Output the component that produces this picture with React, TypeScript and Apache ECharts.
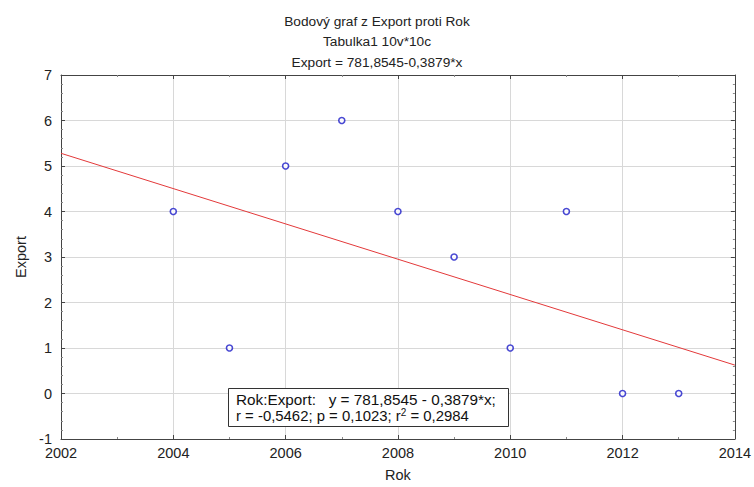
import React, { useEffect, useRef } from "react";
import * as echarts from "echarts";

const titleLines = ["Bodový graf z Export proti Rok", "Tabulka1 10v*10c", "Export = 781,8545-0,3879*x"];
const years = [2004, 2005, 2006, 2007, 2008, 2009, 2010, 2011, 2012, 2013];
const exportValues = [4, 1, 5, 6, 4, 3, 1, 4, 0, 0];
const regLine: [number, number][] = [[2002, 5.279], [2014, 0.624]];
const xLabelName = "Rok";
const yLabelName = "Export";
const statLine1 = "Rok:Export:   y = 781,8545 - 0,3879*x;";
const statLine2a = "r = -0,5462; p = 0,1023; r";
const statLine2b = " = 0,2984";

const FONT = "'Liberation Sans', Arial, sans-serif";

export default function App() {
  const ref = useRef<HTMLDivElement>(null);
  useEffect(() => {
    if (!ref.current) return;
    const chart = echarts.init(ref.current, undefined, { renderer: "svg" });
    const axisCommon = {
      type: "value" as const,
      axisLine: { show: true, onZero: false, lineStyle: { color: "#444", width: 1 } },
      axisTick: { show: true, inside: true, length: 4, lineStyle: { color: "#444" } },
      minorTick: { show: true, length: 2, lineStyle: { color: "#888" } },
    };
    chart.setOption({
      animation: false,
      backgroundColor: "#fff",
      title: {
        text: titleLines.join("\n"),
        left: "center",
        top: 6,
        textStyle: { fontFamily: FONT, fontSize: 13.7, fontWeight: "normal", color: "#222", lineHeight: 20.5 },
      },
      grid: { left: 61, right: 18, top: 75, bottom: 45, show: false },
      xAxis: [
        {
          ...axisCommon,
          min: 2002, max: 2014, interval: 2,
          minorTick: { ...axisCommon.minorTick, splitNumber: 2 },
          name: xLabelName, nameLocation: "middle", nameGap: 28,
          nameTextStyle: { fontFamily: FONT, fontSize: 14.5, color: "#222" },
          axisLabel: { fontFamily: FONT, fontSize: 14.5, color: "#222", margin: 6, formatter: (v: number) => String(v) },
          splitLine: { show: true, lineStyle: { color: "#d8d8d8", width: 1 } },
        },
        {
          ...axisCommon,
          position: "top",
          min: 2002, max: 2014, interval: 2,
          minorTick: { ...axisCommon.minorTick, splitNumber: 2 },
          axisLabel: { show: false },
          splitLine: { show: false },
        },
      ],
      yAxis: [
        {
          ...axisCommon,
          min: -1, max: 7, interval: 1,
          minorTick: { ...axisCommon.minorTick, splitNumber: 5 },
          name: yLabelName, nameLocation: "middle", nameGap: 33,
          nameTextStyle: { fontFamily: FONT, fontSize: 14.5, color: "#222" },
          axisLabel: { fontFamily: FONT, fontSize: 14.5, color: "#222", margin: 9 },
          splitLine: { show: true, lineStyle: { color: "#d8d8d8", width: 1 } },
        },
        {
          ...axisCommon,
          position: "right",
          min: -1, max: 7, interval: 1,
          minorTick: { ...axisCommon.minorTick, splitNumber: 5 },
          axisLabel: { show: false },
          splitLine: { show: false },
        },
      ],
      series: [
        {
          type: "line",
          data: regLine,
          symbol: "none",
          lineStyle: { color: "#e3393a", width: 1 },
          z: 3,
        },
        {
          type: "scatter",
          data: years.map((y, i) => [y, exportValues[i]]),
          symbol: "circle",
          symbolSize: 6,
          itemStyle: { color: "#fff", borderColor: "#1c1cc8", borderWidth: 1.6 },
          z: 4,
        },
      ],
      graphic: [
        {
          type: "rect",
          left: 228,
          top: 388,
          z: 100,
          shape: { x: 0, y: 0, width: 280, height: 38 },
          style: { fill: "#fff", stroke: "#333", lineWidth: 1 },
        },
        {
          type: "text",
          left: 236,
          top: 391,
          z: 101,
          style: {
            text: "{l1|" + statLine1 + "}\n{l2|" + statLine2a + "}{sup|2}{l2|" + statLine2b + "}",
            fontFamily: FONT,
            fontSize: 14.8,
            fill: "#111",
            lineHeight: 16.5,
            rich: {
              l1: { fontSize: 15.3, fontFamily: FONT, fill: "#111", lineHeight: 16.5 },
              l2: { fontSize: 14.9, fontFamily: FONT, fill: "#111", lineHeight: 16.5 },
              sup: { fontSize: 10, fontFamily: FONT, fill: "#111", padding: [0, 0, 7, 0], lineHeight: 16.5 },
            },
          },
        },
      ],
    });
    return () => chart.dispose();
  }, []);
  return <div ref={ref} style={{ width: 754, height: 487, position: "absolute", left: 0, top: 0 }} />;
}
